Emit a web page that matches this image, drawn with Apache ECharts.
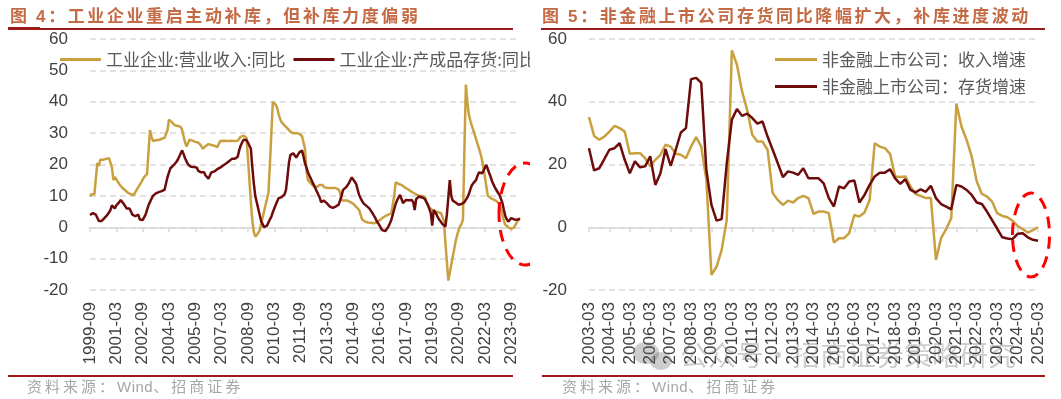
<!DOCTYPE html>
<html>
<head>
<meta charset="utf-8">
<script src="https://cdn.jsdelivr.net/npm/echarts@6/dist/echarts.min.js"></script>
<style>
body{margin:0;width:1061px;height:399px;position:relative;overflow:hidden;background:#fff;font-family:"Noto Sans CJK SC",sans-serif}
.chart{position:absolute;top:0;height:399px}
#chart1{left:0;width:530px}
#chart2{left:530px;width:531px}
.title{position:absolute;top:5px;font-size:17px;line-height:20px;font-weight:bold;color:#C46A45;letter-spacing:2.6px;white-space:nowrap}
.title b{font-family:"Liberation Sans",sans-serif;font-weight:bold}
.rule{position:absolute;height:2px;background:#9B1B1B}
.source{position:absolute;top:377px;font-size:15px;line-height:17px;color:#A6A6A6;letter-spacing:3px;white-space:nowrap}
.source span{font-family:"Liberation Sans",sans-serif;letter-spacing:0.5px}
.mark{position:absolute;top:338px;left:680px;font-size:28px;line-height:32px;color:rgba(90,90,90,0.3);white-space:nowrap}
.dot{position:absolute;border-radius:50%;background:rgba(90,90,90,0.3)}
</style>
</head>
<body>
<div id="chart1" class="chart"></div>
<div id="chart2" class="chart"></div>

<div class="title" style="left:10px">图 <b>4</b>：工业企业重启主动补库，但补库力度偏弱</div>
<div class="title" style="left:542px">图 <b>5</b>：非金融上市公司存货同比降幅扩大，补库进度波动</div>
<div class="rule" style="left:8px;top:28px;width:505px"></div>
<div class="rule" style="left:8px;top:27px;width:32px;height:3px"></div>
<div class="rule" style="left:541px;top:28px;width:504px"></div>
<div class="rule" style="left:8px;top:375px;width:505px"></div>
<div class="rule" style="left:542px;top:375px;width:503px"></div>
<div class="source" style="left:27px">资料来源：<span>Wind</span>、招商证券</div>
<div class="source" style="left:562px">资料来源：<span>Wind</span>、招商证券</div>
<div class="dot" style="left:633px;top:342px;width:26px;height:22px"></div>
<div class="dot" style="left:650px;top:352px;width:22px;height:18px"></div>
<div class="mark">公众号·招商证券策略研究</div>

<script>
// 图4 工业企业，月度，1999-09 起
const indRevenue = [
    9.8, 10.5, 10.8, 10.5, 11, 20.5, 19.5, 21.5, 21.8, 21.5, 21.5, 21.8,
    21.8, 22, 22.2, 19, 15, 16, 15.3, 14.5, 13.8, 13.2, 12.6, 12.2,
    11.8, 11.5, 11, 10.8, 10.5, 10.3, 10.3, 11.2, 12, 12.8, 13.5, 14.3,
    15.2, 16, 16.5, 17, 24, 31, 29, 27.5, 27.5, 27.7, 27.8, 27.8,
    28, 28.2, 28.5, 28.5, 28.8, 31, 34.3, 34, 33.5, 33, 32.5, 32,
    32.3, 32, 32, 31, 29, 27, 25.7, 26.8, 27.9, 27.9, 27.6, 27.3,
    27.2, 27, 27, 27, 26, 25, 25.3, 25.8, 26.3, 26.5, 26.3, 26.2,
    26.1, 26, 26, 25.5, 26.5, 27.5, 27.5, 27.6, 27.5, 27.5, 27.4, 27.5,
    27.5, 27.6, 27.5, 27.5, 27.6, 27.6, 28, 28.8, 29.3, 29.2, 29, 28.5,
    22, 15, 8, 2, -1.5, -3, -2.5, -1.8, -1, 1, 3, 5,
    7, 9, 11, 20, 30, 40, 39.5, 39, 38, 36, 34.5, 33.5,
    33, 32.5, 32, 31.5, 31, 30.5, 30, 30, 30, 30, 30, 29.8,
    29.5, 29, 28.5, 25, 18, 15, 14.5, 14, 13.5, 13, 12.8, 12.8,
    13, 13.5, 14, 13.5, 12.8, 12.5, 12.5, 12.5, 12.5, 12.3, 12.5, 12.8,
    12.5, 12.3, 12, 11, 8.5, 8.5, 8.5, 8.5, 8.5, 8.2, 8, 7.8,
    7.5, 7, 6.5, 6, 5.5, 4, 2.5, 2, 1.8, 1.6, 1.5, 1.5,
    1.4, 1.3, 1.3, 1.4, 1.5, 1.8, 2.2, 2.7, 3, 3.3, 3.6, 3.8,
    4, 4.2, 4.5, 4.8, 10, 14.3, 14, 13.8, 13.8, 13.5, 13, 12.8,
    12.5, 12.2, 12, 11.6, 11.2, 11, 10.8, 10.5, 10.2, 10, 10, 10,
    9.8, 9.5, 8, 7, 6.3, 5.8, 5.5, 5.2, 5, 5, 4.8, 4.6,
    4.5, 4.2, 2, -5, -11, -17, -14.5, -12, -9.5, -7, -4.5, -2.5,
    -1, 0.3, 1, 2.5, 25, 45.5, 40, 36, 34, 32.5, 31, 29.5,
    28, 26.5, 25, 23.5, 21.5, 19, 16, 13, 10, 9.6, 9.3, 9,
    8.8, 8.5, 8.3, 8, 7.2, 6, 4, 2, 0.8, 0.2, 0, -0.3,
    -0.5, -0.3, 0, 0.8, 1.8, 2.5, 3
]
const indStock = [
    3.9, 4.2, 4.5, 4.7, 4, 3, 2, 1.5, 2, 2.5, 3, 3.5,
    4, 4.5, 5.5, 7, 6.5, 6, 7, 7.5, 8, 8.7, 8.3, 7.5,
    7, 6, 5.5, 6, 5, 4, 3.8, 3.5, 3.8, 4, 2.5, 2.5,
    2.3, 2.5, 4, 5.5, 7, 8, 9, 10, 10.5, 10.8, 11, 11.2,
    11.3, 11.5, 11.5, 12, 14, 16, 17.5, 18.8, 19.3, 19.7, 20, 20.8,
    21.5, 22.5, 23.5, 24.5, 23.3, 22, 21, 20, 19.6, 19.3, 19, 19.2,
    19, 19, 18, 17.5, 17.5, 17.3, 17.5, 16.5, 16, 15.5, 16.5, 17.5,
    17.6, 17.8, 18, 18.5, 19, 19, 19.3, 19.7, 20, 20.3, 20.6, 21,
    21.5, 21.8, 22, 21.8, 21.5, 22.5, 24.5, 26, 27, 27.9, 28.5, 27.8,
    27, 26, 25, 19, 14, 10, 8, 6, 4, 2, 1, 0,
    -0.3, 0.5, 1.5, 2.5, 3.4, 4.8, 6, 7.2, 8.3, 9.3, 9.8, 9.6,
    9.3, 10.5, 11.9, 16, 20.5, 23, 23.5, 23.6, 23, 22.2, 23, 23.8,
    24.3, 24.5, 22.5, 20.4, 19, 17.5, 16.5, 15.5, 14.5, 13.5, 12.5, 11.5,
    10.9, 9.5, 8, 8, 8.5, 8.3, 7.6, 7.1, 6.6, 6.1, 6.2, 6.4,
    6.6, 6.8, 7.2, 7.7, 10, 11.9, 12.3, 12.7, 13, 14, 15, 15.9,
    15.3, 14.5, 13.8, 12, 10.3, 9.3, 8.4, 7.6, 7.1, 6.8, 6.6, 6,
    5.3, 4.6, 3.8, 3, 2, 1.3, 0.5, -0.3, -1, -1.4, -1.2, -0.8,
    0.2, 1.2, 2.3, 4, 5.8, 7.5, 8.6, 9.5, 10.3, 9, 7.7, 8.3,
    8.7, 8.7, 8.6, 8.7, 8.7, 8, 5.5, 9, 9.5, 9.8, 9.7, 9.5,
    9.3, 9, 8, 7.2, 6.6, 4.5, 0.5, 5.5, 4.8, 4, 3, 2.3,
    1.8, 1, 0.5, 0.2, 4, 9.5, 15, 10, 8.5, 8.3, 7.9, 7.5,
    7.2, 7.1, 7.4, 7.7, 8, 8.5, 9.5, 10.5, 12, 13.3, 14, 14.6,
    15.1, 16.5, 17.5, 17.5, 17.2, 18, 19, 19.9, 18.5, 17.2, 16, 14.5,
    13.5, 12.5, 11.9, 11, 10.3, 9, 7.7, 5.5, 3.5, 2.5, 1.8, 2.2,
    2.9, 2.9, 2.5, 2.3, 2.4, 2.5, 2.6
]

// 图5 非金融上市公司，季度，2003-03 起
const listRevenue = [
    35.1, 29.1, 27.9, 28.9, 30.5, 32.3, 31.6, 30.5, 23.4, 23.6,
    23.6, 22, 19.4, 21.5, 23.1, 26.3, 25.7, 23.4, 23.1, 22,
    25.7, 28.7, 25.7, 15.1, -15.2, -12.6, -7.2, 2.3, 56.4, 51.8,
    43.3, 37.4, 29.5, 27.3, 27.3, 24.7, 10.9, 8.7, 7.1, 8.5,
    7.9, 9.3, 10, 9.3, 4.3, 5, 5, 4.5, -4.9, -3.5,
    -3.5, -1.9, 3.9, 3.4, 4.7, 8.7, 26.8, 25.7, 25.2, 23.4,
    16.2, 16, 16.2, 13, 10.6, 10, 9.3, 9.3, -10.4, -3.5,
    -0.6, 2.9, 39.4, 32.1, 27.9, 22.6, 14.6, 10.6, 9.8, 8.2,
    4.5, 3.6, 3.2, 2.1, 0.4, -0.6, -1.7, -0.9, 0
]
const listStock = [
    25.2, 18.1, 18.8, 21.7, 24.7, 25.2, 26.8, 21.5, 17.2, 21,
    19.1, 19.4, 22.6, 13.5, 17.2, 24.9, 19.6, 24.7, 30.2, 31.6,
    47.2, 47.6, 46, 18.3, 7.1, 2.1, 2.6, 20.4, 34.3, 37.7,
    35.5, 36.2, 34.8, 33, 33.7, 28.9, 24.7, 20.4, 16, 17.8,
    17.4, 16.7, 18.8, 15.6, 15.6, 15.6, 14, 9.3, 6.6, 13,
    12.4, 14.6, 14.9, 7.9, 10.3, 13.5, 16.2, 17.4, 17.4, 18.5,
    15.6, 13.8, 15.3, 11.9, 11.1, 12.1, 11.3, 13.2, 9.3, 7.4,
    6.6, 5.7, 13.5, 13, 11.9, 10.3, 7.9, 7.4, 5, 2.3,
    -0.4, -3.2, -3.6, -3.8, -2.1, -1.9, -3.2, -4, -4.3
]

const indNames = ['工业企业:营业收入:同比', '工业企业:产成品存货:同比']
const listNames = ['非金融上市公司：收入增速', '非金融上市公司：存货增速']

const GOLD = '#C9A040'
const BROWN = '#6E0B0B'

function dateList(startY, startM, count, step) {
    let list = []
    let y = startY
    let m = startM
    for (let i = 0; i < count; i++) {
        list.push(y + '-' + String(m).padStart(2, '0'))
        m += step
        while (m > 12) { m -= 12; y++ }
    }
    return list
}

function makeOption(cats, labelEvery, yStep, gridLeft, gridRight, legend, series, ring) {
    const axisGray = '#D9D9D9'
    return {
        animation: false,
        textStyle: {fontFamily: 'Noto Sans CJK SC'},
        grid: {left: gridLeft, right: gridRight, top: 39, bottom: 109},
        legend: legend,
        xAxis: [
            {
                type: 'category', data: cats, boundaryGap: false,
                axisLine: {onZero: true, lineStyle: {color: axisGray, width: 1.5}},
                axisTick: {interval: labelEvery - 1, length: 5, lineStyle: {color: axisGray, width: 1.5}},
                axisLabel: {show: false},
                splitLine: {show: false}
            },
            {
                type: 'category', data: cats, boundaryGap: false, position: 'bottom',
                axisLine: {show: false, onZero: false},
                axisTick: {show: false},
                axisLabel: {
                    interval: labelEvery - 1, rotate: 90, margin: 12,
                    fontSize: 17, color: '#404040', fontFamily: 'Liberation Sans'
                },
                splitLine: {show: false}
            }
        ],
        yAxis: {
            type: 'value', min: -20, max: 60, interval: yStep,
            axisLine: {show: false},
            axisTick: {show: false},
            axisLabel: {fontSize: 17, color: '#404040', margin: 22, fontFamily: 'Liberation Sans'},
            splitLine: {lineStyle: {type: [6, 4], color: axisGray, width: 1.5}}
        },
        series: series,
        graphic: [{
            type: 'ellipse',
            shape: ring,
            style: {fill: 'none', stroke: '#FF0000', lineWidth: 3, lineDash: [12, 8]},
            z: 100
        }]
    }
}

function lineSeries(name, data, color) {
    return {
        name: name, type: 'line', data: data,
        showSymbol: false, symbol: 'none',
        lineStyle: {width: 2.5, color: color},
        itemStyle: {color: color}
    }
}

function createChartInd() {
    let months = dateList(1999, 9, indRevenue.length, 1)
    let chart = echarts.init(document.getElementById('chart1'))
    // legend runs past the right edge in the original, so no wrapping
    let option = makeOption(months, 18, 10, 90, 10, {
        left: 55, top: 46, width: 900, itemWidth: 41, itemHeight: 3, itemGap: 8, icon: 'rect',
        textStyle: {fontSize: 17, color: '#595959'}
    }, [
        lineSeries(indNames[0], indRevenue, GOLD),
        lineSeries(indNames[1], indStock, BROWN)
    ], {cx: 525, cy: 214, rx: 26, ry: 51})
    chart.setOption(option)
}

function createChartList() {
    let quarters = dateList(2003, 3, listRevenue.length, 3)
    let chart = echarts.init(document.getElementById('chart2'))
    let option = makeOption(quarters, 4, 20, 59, 23, {
        orient: 'vertical', left: 240, top: 46, itemWidth: 42, itemHeight: 3, itemGap: 10, icon: 'rect',
        textStyle: {fontSize: 17, color: '#595959'}
    }, [
        lineSeries(listNames[0], listRevenue, GOLD),
        lineSeries(listNames[1], listStock, BROWN)
    ], {cx: 501, cy: 235, rx: 18.5, ry: 42})
    chart.setOption(option)
}

document.addEventListener('DOMContentLoaded', () => {
    createChartInd()
    createChartList()
})
</script>
</body>
</html>
